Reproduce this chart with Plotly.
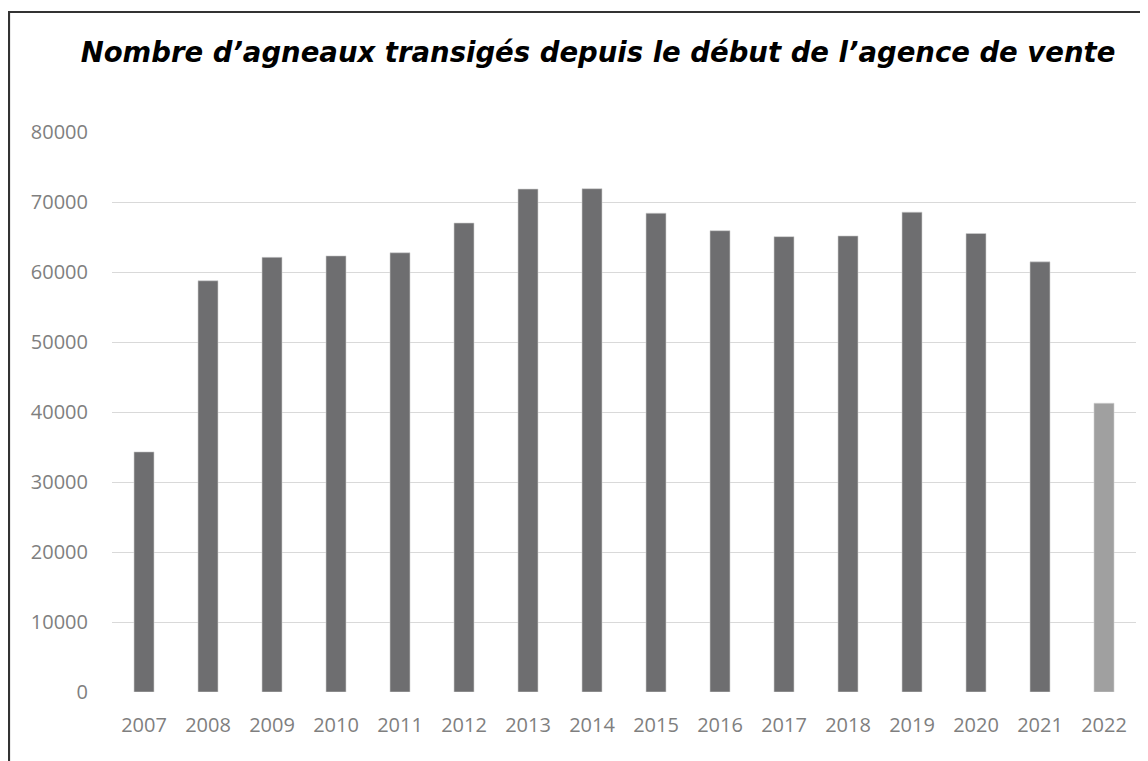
import plotly.graph_objects as go

years = ["2007", "2008", "2009", "2010", "2011", "2012", "2013", "2014",
         "2015", "2016", "2017", "2018", "2019", "2020", "2021", "2022"]
agneaux = [34300, 58750, 62100, 62300, 62750, 67000, 71850, 71900,
           68400, 65900, 65050, 65150, 68550, 65500, 61450, 41250]
bar_colors = ["#6e6e70"] * 15 + ["#a0a0a0"]
y_ticks = [0, 10000, 20000, 30000, 40000, 50000, 60000, 70000, 80000]

# page has an 8px body margin, so coordinates are shifted by 8px
W, H = 1132, 753
L, R, T, B = 104, 4, 124, 69
pw, ph = W - L - R, H - T - B

def px_x(x):
    return (x - L) / pw

def px_y(y):
    return (H - B - y) / ph

fig = go.Figure(go.Bar(
    x=years, y=agneaux,
    marker=dict(color=bar_colors, line=dict(color="#d0d0d0", width=0.6)),
    width=0.3125,
))

fig.update_layout(
    width=W, height=H,
    margin=dict(l=L, r=R, t=T, b=B),
    paper_bgcolor="white", plot_bgcolor="white",
    showlegend=False,
    title=dict(
        text="<b><i>Nombre d’agneaux transigés depuis le début de l’agence de vente</i></b>",
        font=dict(family="DejaVu Sans", size=27.5, color="black"),
        x=590 / W, xanchor="center", xref="container",
        y=1 - 44 / H, yanchor="middle", yref="container",
    ),
    font=dict(family="Open Sans", color="#7f7f7f"),
    xaxis=dict(
        type="category", showgrid=False, zeroline=False, showline=False,
        ticks="outside", ticklen=15, tickcolor="rgba(0,0,0,0)",
        tickfont=dict(size=20, color="#7f7f7f"),
    ),
    yaxis=dict(
        range=[0, 80000], tickvals=y_ticks, ticktext=[str(v) for v in y_ticks],
        showgrid=True, gridcolor="#d9d9d9", gridwidth=1,
        zeroline=False, showline=False,
        ticks="outside", ticklen=19, tickcolor="rgba(0,0,0,0)",
        tickfont=dict(size=20, color="#7f7f7f"),
    ),
    shapes=[
        dict(type="line", xref="paper", yref="paper",
             x0=px_x(0), x1=px_x(W + 5), y0=px_y(4), y1=px_y(4),
             line=dict(color="#333333", width=2.2)),
        dict(type="line", xref="paper", yref="paper",
             x0=px_x(1), x1=px_x(1), y0=px_y(3), y1=px_y(H + 5),
             line=dict(color="#333333", width=2.2)),
    ],
)

fig.write_html("out.html")
